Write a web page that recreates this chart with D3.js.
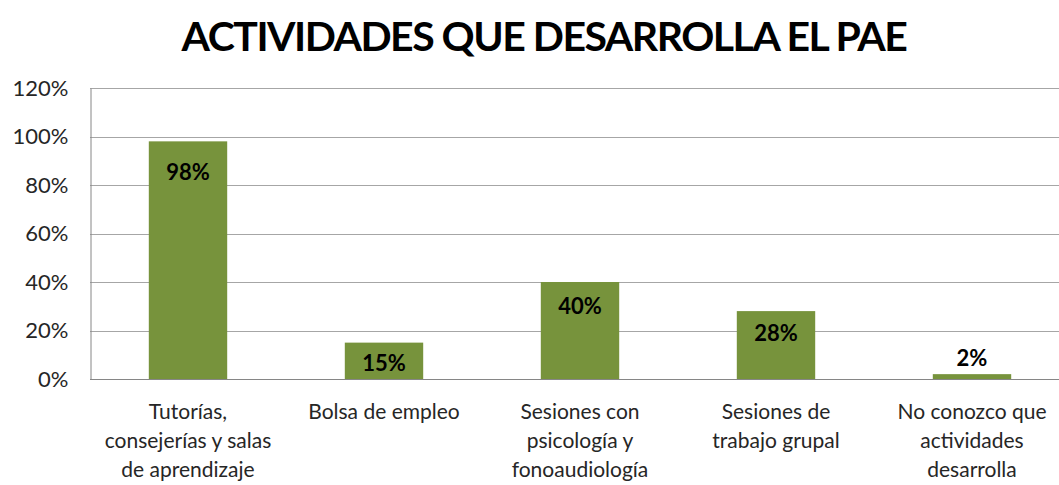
<!DOCTYPE html>
<html>
<head>
<meta charset="utf-8">
<script src="https://cdn.jsdelivr.net/npm/d3@7"></script>
<style>
  body { margin: 0; background: #fff; }
  svg { display: block; font-family: Lato, "Open Sans", sans-serif; }
</style>
</head>
<body>
<svg id="chart" width="1059" height="485"></svg>
<script>
// data
var categories = [
  ['Tutorías,', 'consejerías y salas', 'de aprendizaje'],
  ['Bolsa de empleo'],
  ['Sesiones con', 'psicología y', 'fonoaudiología'],
  ['Sesiones de', 'trabajo grupal'],
  ['No conozco que', 'actividades', 'desarrolla']
]
var values = [0.98, 0.15, 0.40, 0.28, 0.02]
var yTicks = [0, 0.2, 0.4, 0.6, 0.8, 1.0, 1.2]
var title = 'ACTIVIDADES QUE DESARROLLA EL PAE'

// colors
var colorBar = '#77933c'
var colorGrid = '#a6a6a6'
var colorAxis = '#868686'

var svg = d3.select('#chart')
var plotLeft = 90, plotRight = 1070, plotTop = 88, plotBottom = 379
var pct = d3.format('.0%')

var x = d3.scaleBand()
  .domain(d3.range(values.length))
  .range([plotLeft, plotRight])
  .paddingInner(0.6)
  .paddingOuter(0.3)

var y = d3.scaleLinear().domain([0, 1.2]).range([plotBottom, plotTop])

svg.append('text')
  .attr('x', 544).attr('y', 51)
  .attr('text-anchor', 'middle')
  .attr('font-size', 41).attr('font-weight', 'bold')
  .attr('letter-spacing', -1.5)
  .text(title)

// gridlines
svg.append('g').selectAll('line')
  .data(yTicks.slice(1))
  .join('line')
  .attr('x1', plotLeft).attr('x2', plotRight)
  .attr('y1', d => Math.round(y(d)) + 0.5).attr('y2', d => Math.round(y(d)) + 0.5)
  .attr('stroke', colorGrid)

var yAxis = svg.append('g')
  .attr('transform', 'translate(' + (plotLeft + 0.5) + ',0)')
  .call(d3.axisLeft(y).tickValues(yTicks).tickFormat(pct).tickSize(0).tickPadding(22))
yAxis.select('.domain').attr('stroke', colorAxis)
yAxis.selectAll('text').attr('font-size', 22).attr('fill', '#262626').attr('font-family', 'Lato, sans-serif')

// bars
svg.append('g').selectAll('rect')
  .data(values)
  .join('rect')
  .attr('x', (d, i) => x(i))
  .attr('width', x.bandwidth())
  .attr('y', d => y(d))
  .attr('height', d => plotBottom - y(d))
  .attr('fill', colorBar)

// baseline
svg.append('line')
  .attr('x1', plotLeft).attr('x2', plotRight)
  .attr('y1', plotBottom + 0.5).attr('y2', plotBottom + 0.5)
  .attr('stroke', colorAxis)

// value labels (inside end, above the bar when it is too short)
svg.append('g').selectAll('text')
  .data(values)
  .join('text')
  .attr('x', (d, i) => x(i) + x.bandwidth() / 2)
  .attr('y', d => plotBottom - y(d) > 32 ? y(d) + 27 + 12 * d : y(d) - 8)
  .attr('text-anchor', 'middle')
  .attr('font-size', 22).attr('font-weight', 'bold')
  .attr('fill', '#000')
  .text(d => pct(d))

// category labels
var cat = svg.append('g').selectAll('text')
  .data(categories)
  .join('text')
  .attr('x', (d, i) => x(i) + x.bandwidth() / 2)
  .attr('y', 419)
  .attr('text-anchor', 'middle')
  .attr('font-size', 21)
  .attr('fill', '#262626')
cat.selectAll('tspan')
  .data(d => d)
  .join('tspan')
  .attr('x', function () { return this.parentNode.getAttribute('x') })
  .attr('dy', (d, i) => i ? 29 : 0)
  .text(d => d)
</script>
</body>
</html>
